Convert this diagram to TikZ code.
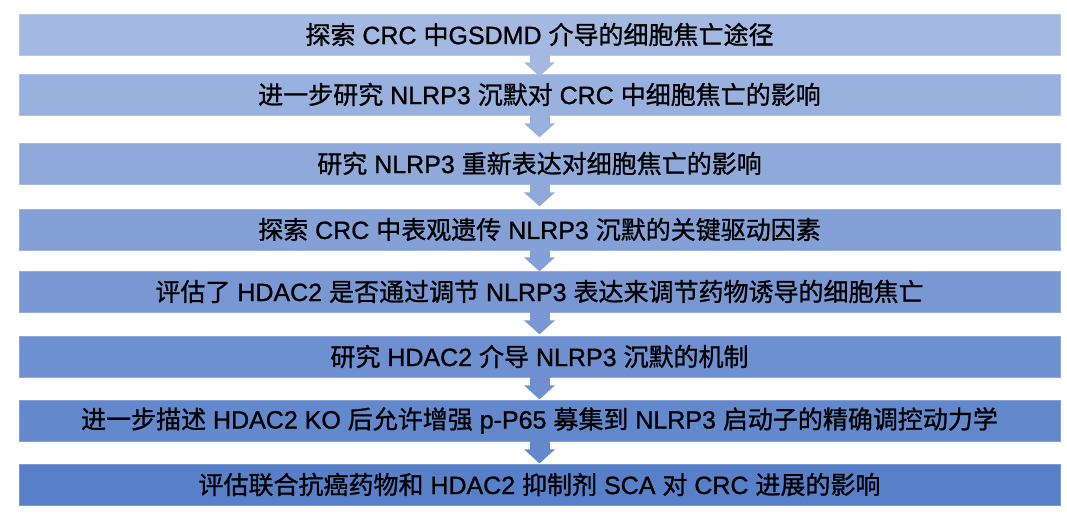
\documentclass[tikz,border=0pt]{standalone}
\usepackage{fontspec}
\setmainfont[FakeBold=1]{Liberation Sans}
\newfontfamily\cjkfont[FakeBold=1]{Noto Sans CJK SC}
\usetikzlibrary{arrows.meta}
\newcommand{\zh}[1]{{\cjkfont #1}}
\definecolor{c1}{RGB}{164,185,225}
\definecolor{c2}{RGB}{153,177,222}
\definecolor{c3}{RGB}{142,169,218}
\definecolor{c4}{RGB}{131,161,215}
\definecolor{c5}{RGB}{121,152,211}
\definecolor{c6}{RGB}{110,144,208}
\definecolor{c7}{RGB}{99,136,204}
\definecolor{c8}{RGB}{88,128,201}
\tikzset{
  stepbox/.style={fill=#1, draw=#1!80!white, line width=0.8pt,
    minimum width=1041pt, minimum height=41pt, inner sep=0pt,
    font=\fontsize{25}{29}\selectfont, text=black},
  flowarrow/.style={draw=#1, line width=20pt,
    -{Triangle[width=30pt,length=14pt]}}
}
\begin{document}
\begin{tikzpicture}[x=1pt,y=-1pt]
\useasboundingbox (0,0) rectangle (1067,517);
\fill[white] (0,0) rectangle (1067,517);
\node[stepbox=c1] (b1) at (539.5,34.5) {\zh{探索} CRC \zh{中}GSDMD \zh{介导的细胞焦亡途径}};
\node[stepbox=c2] (b2) at (539.5,94.5) {\zh{进一步研究} NLRP3 \zh{沉默对} CRC \zh{中细胞焦亡的影响}};
\node[stepbox=c3] (b3) at (539.5,163.5) {\zh{研究} NLRP3 \zh{重新表达对细胞焦亡的影响}};
\node[stepbox=c4] (b4) at (539.5,229.5) {\zh{探索} CRC \zh{中表观遗传} NLRP3 \zh{沉默的关键驱动因素}};
\node[stepbox=c5] (b5) at (539.5,291.5) {\zh{评估了} HDAC2 \zh{是否通过调节} NLRP3 \zh{表达来调节药物诱导的细胞焦亡}};
\node[stepbox=c6] (b6) at (539.5,356.5) {\zh{研究} HDAC2 \zh{介导} NLRP3 \zh{沉默的机制}};
\node[stepbox=c7] (b7) at (539.5,420.5) {\zh{进一步描述} HDAC2 KO \zh{后允许增强} p-P65 \zh{募集到} NLRP3 \zh{启动子的精确调控动力学}};
\node[stepbox=c8] (b8) at (539.5,484.5) {\zh{评估联合抗癌药物和} HDAC2 \zh{抑制剂} SCA \zh{对} CRC \zh{进展的影响}};
\draw[flowarrow=c1] (b1.south) -- ++(0,21);
\draw[flowarrow=c2] (b2.south) -- ++(0,22);
\draw[flowarrow=c3] (b3.south) -- ++(0,22);
\draw[flowarrow=c4] (b4.south) -- ++(0,21);
\draw[flowarrow=c5] (b5.south) -- ++(0,22);
\draw[flowarrow=c6] (b6.south) -- ++(0,22);
\draw[flowarrow=c7] (b7.south) -- ++(0,22);
\end{tikzpicture}
\end{document}
